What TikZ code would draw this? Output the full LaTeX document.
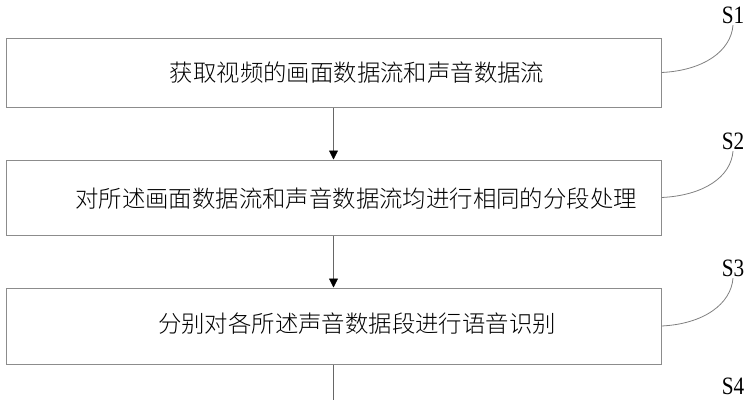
\documentclass[tikz,border=0pt]{standalone}
\usepackage{fontspec}
\setmainfont{Liberation Serif}
\newfontfamily\cjk{Noto Sans CJK SC}[UprightFont=* Light]
\usetikzlibrary{arrows.meta}
\tikzset{%
  tipA/.tip={Triangle[length=9pt,width=9pt,color=black]},
  stepbox/.style={draw=black!45, line width=1pt, inner sep=0pt},
  steptext/.style={font=\cjk\fontsize{23.4}{26}\selectfont, inner sep=0pt},
  steplabel/.style={font=\fontsize{25}{28}\selectfont, inner sep=1.5pt},
  leader/.style={draw=black!50, line width=0.8pt},
  connector/.style={draw=black!60, line width=0.8pt}
}

\begin{document}
\begin{tikzpicture}[x=1pt,y=-1pt]
\useasboundingbox (0,0) rectangle (751,400);
\clip (0,0) rectangle (751,400);
\node[stepbox, minimum width=655pt, minimum height=69pt] (b1) at (333.5,72.5) {};
\node[stepbox, minimum width=655pt, minimum height=75pt] (b2) at (333.5,197.5) {};
\node[stepbox, minimum width=655pt, minimum height=76pt] (b3) at (333.5,326) {};
\node[steptext] (t1) at (357,73) {获取视频的画面数据流和声音数据流};
\node[steptext] (t2) at (356,199) {对所述画面数据流和声音数据流均进行相同的分段处理};
\node[steptext] (t3) at (357,324) {分别对各所述声音数据段进行语音识别};
\node[steplabel] (s1) at (733,15) {\scalebox{0.85}[1]{S1}};
\node[steplabel] (s2) at (733,141) {\scalebox{0.85}[1]{S2}};
\node[steplabel] (s3) at (733,268) {\scalebox{0.85}[1]{S3}};
\node[steplabel] (s4) at (733,386) {\scalebox{0.85}[1]{S4}};
\coordinate (c4) at (333.5,400);
\draw[connector, -tipA] (b1.south) -- (b2.north);
\draw[connector, -tipA] (b2.south) -- (b3.north);
\draw[connector] (b3.south) -- (c4);
\draw[leader] (b1.east) .. controls +(42,-2) and +(-2,26) .. (s1.south);
\draw[leader] (b2.east) .. controls +(42,-2) and +(-2,26) .. (s2.south);
\draw[leader] (b3.east) .. controls +(42,-2) and +(-2,26) .. (s3.south);
\end{tikzpicture}
\end{document}
